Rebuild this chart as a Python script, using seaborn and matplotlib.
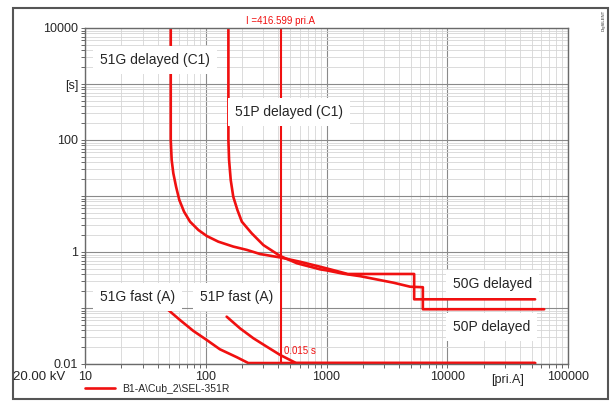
import numpy as np
import pandas as pd
import seaborn as sns
import matplotlib.pyplot as plt
from matplotlib.ticker import NullFormatter, FixedLocator, FixedFormatter
from matplotlib.patches import Rectangle

# 51G delayed (C1) + 50G delayed
g_del_i = [51.3, 51.3, 52.2, 53.9, 56.8, 60.4, 66.1, 74.1, 86.9, 102, 127, 169, 219, 282, 413, 604, 885,
           1000, 1250, 1500, 5320, 5320, 53400]
g_del_t = [10000, 100, 44, 25.4, 14.6, 8.5, 5.25, 3.48, 2.47, 1.93, 1.53, 1.25, 1.09, 0.92, 0.80, 0.67, 0.546,
           0.51, 0.45, 0.405, 0.405, 0.143, 0.143]

# 51P delayed (C1) + 50P delayed
p_del_i = [154, 154, 156, 161, 169, 183, 199, 240, 300, 413, 568, 885, 1000, 1370, 1900, 3580, 4930, 6280,
           6280, 63500]
p_del_t = [10000, 100, 44, 19.3, 9.7, 5.6, 3.48, 2.16, 1.33, 0.85, 0.63, 0.49, 0.47, 0.41, 0.37, 0.283, 0.24,
           0.235, 0.095, 0.095]

# 51G fast (A)
g_fast_i = [49, 61.2, 78.9, 102, 131, 181, 225, 53400]
g_fast_t = [0.092, 0.061, 0.039, 0.0268, 0.0183, 0.0132, 0.0104, 0.0104]

# 51P fast (A)
p_fast_i = [149, 192, 248, 320, 413, 532, 560, 53400]
p_fast_t = [0.070, 0.0434, 0.0288, 0.0204, 0.0145, 0.011, 0.0104, 0.0104]

i_marker = 416.599
t_marker = 0.015

curves = {
    "51G delayed": (g_del_i, g_del_t),
    "51P delayed": (p_del_i, p_del_t),
    "51G fast": (g_fast_i, g_fast_t),
    "51P fast": (p_fast_i, p_fast_t),
}

sns.set_style("white")
plt.rcParams['font.family'] = ['Liberation Sans', 'DejaVu Sans']

fig = plt.figure(figsize=(6.10, 4.01), dpi=100)
ax = fig.add_axes([85 / 610, 1 - 364 / 401, (568 - 85) / 610, (364 - 28) / 401])

red = "#f01010"
for name, (ii, tt) in curves.items():
    df = pd.DataFrame({"I": ii, "t": tt})
    sns.lineplot(data=df, x="I", y="t", ax=ax, color=red, lw=1.9,
                 sort=False, estimator=None, legend=False)

ax.axvline(i_marker, color=red, lw=1.5)

ax.set_xscale("log")
ax.set_yscale("log")
ax.set_xlim(10, 100000)
ax.set_ylim(0.01, 10000)

# ticks and grid
xdec = [10, 100, 1000, 10000, 100000]
ydec = [0.01, 0.1, 1, 10, 100, 1000, 10000]
ax.xaxis.set_major_locator(FixedLocator(xdec))
ax.xaxis.set_major_formatter(FixedFormatter(["10", "100", "1000", "10000", "100000"]))
ax.xaxis.set_minor_locator(FixedLocator([d * k for d in xdec[:-1] for k in range(2, 10)]))
ax.xaxis.set_minor_formatter(NullFormatter())
ax.yaxis.set_major_locator(FixedLocator(ydec))
ax.yaxis.set_major_formatter(FixedFormatter(["0.01", "", "1", "", "100", "[s]", "10000"]))
ax.yaxis.set_minor_locator(FixedLocator([d * k for d in ydec[:-1] for k in range(2, 10)]))
ax.yaxis.set_minor_formatter(NullFormatter())
ax.tick_params(which="both", direction="out", length=3, width=0.7, color="#666666",
               labelsize=9, pad=2, left=True, bottom=True)
ax.grid(which="minor", color="#d6d6d6", lw=0.6)
ax.grid(which="major", color="#8a8a8a", lw=0.8)
ax.set_axisbelow(True)
for s in ax.spines.values():
    s.set_color("#6a6a6a")
    s.set_linewidth(1.0)
ax.set_xlabel("")
ax.set_ylabel("")

# curve labels
box = dict(boxstyle="square,pad=0.5", fc="white", ec="none")
ax.text(13.3, 2690, "51G delayed (C1)", fontsize=10, va="center", ha="left", bbox=box)
ax.text(175, 316, "51P delayed (C1)", fontsize=10, va="center", ha="left", bbox=box)
ax.text(13.3, 0.157, "51G fast (A)", fontsize=10, va="center", ha="left", bbox=box)
ax.text(89.8, 0.157, "51P fast (A)", fontsize=10, va="center", ha="left", bbox=box)
ax.text(11200, 0.268, "50G delayed", fontsize=10, va="center", ha="left", bbox=box)
ax.text(11200, 0.0458, "50P delayed", fontsize=10, va="center", ha="left", bbox=box)

ax.text(i_marker, 1.006, "I =416.599 pri.A", color=red, fontsize=7, ha="center", va="bottom",
        transform=ax.get_xaxis_transform(),
        bbox=dict(boxstyle="square,pad=0.1", fc="white", ec="none"))
ax.text(i_marker * 1.07, t_marker * 1.15, "0.015 s", color=red, fontsize=7, ha="left", va="center")

ax.text(31300, -0.03, "[pri.A]", fontsize=9, ha="center", va="top",
        transform=ax.get_xaxis_transform())

fig.text(13 / 610, 1 - 377 / 401, "20.00 kV", fontsize=9.5, ha="left", va="center")

# legend line
fig.add_artist(plt.Line2D([85 / 610, 115 / 610], [1 - 388 / 401, 1 - 388 / 401], color=red, lw=1.9))
fig.text(122 / 610, 1 - 388 / 401, "B1-A\\Cub_2\\SEL-351R", fontsize=7.5, ha="left", va="center")

fig.text(604 / 610, 1 - 20 / 401, "DIgSILENT", fontsize=3, rotation=90, ha="center", va="center")

# outer frame
fig.patches.append(Rectangle((13 / 610, 1 - 399 / 401), (608 - 13) / 610, (399 - 8) / 401,
                             transform=fig.transFigure, fill=False, ec="#555555", lw=1.5))

fig.savefig("out.png", dpi=100)
